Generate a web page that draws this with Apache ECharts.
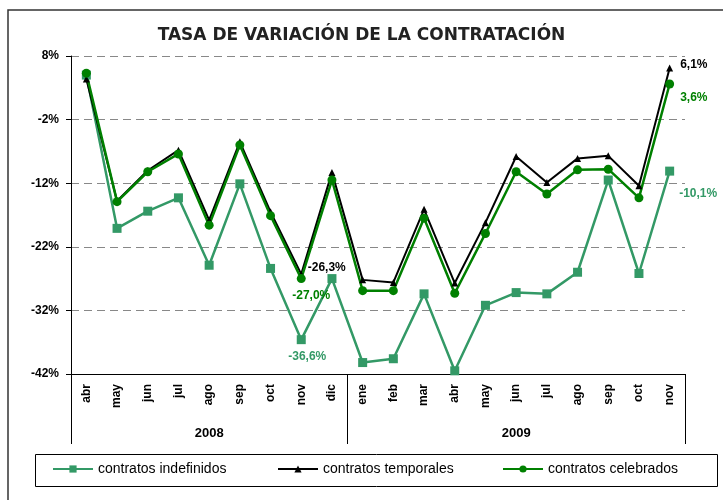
<!DOCTYPE html>
<html>
<head>
<meta charset="utf-8">
<script src="https://cdn.jsdelivr.net/npm/echarts@6/dist/echarts.min.js"></script>
<style>
  html, body { margin: 0; padding: 0; background: #fff; }
  #chart { width: 723px; height: 500px; }
</style>
</head>
<body>
<div id="chart"></div>
<script>
var meses = ['abr','may','jun','jul','ago','sep','oct','nov','dic','ene','feb','mar','abr','may','jun','jul','ago','sep','oct','nov'];
var anios = ['2008', '2009'];
var yTicks = [-42, -32, -22, -12, -2, 8];
var nombres = ['contratos indefinidos', 'contratos temporales', 'contratos celebrados'];

var indefinidos = [5.0,-19.1,-16.4,-14.3,-24.9,-12.1,-25.4,-36.6,-27.0,-40.2,-39.6,-29.4,-41.5,-31.2,-29.2,-29.4,-26.0,-11.5,-26.2,-10.1];
var temporales  = [4.4,-14.8,-10.0,-6.8,-17.8,-5.5,-16.5,-26.3,-10.3,-27.2,-27.6,-16.1,-27.7,-18.2,-7.8,-11.9,-8.1,-7.7,-12.4,6.1];
var celebrados  = [5.3,-14.9,-10.2,-7.4,-18.6,-6.0,-17.1,-27.0,-11.5,-28.9,-28.9,-17.5,-29.3,-19.9,-10.2,-13.7,-9.9,-9.8,-14.3,3.6];

var fmt = function (p) {
    return p.value.toFixed(1).replace('.', ',') + '%';
};

// pone etiqueta solo en los puntos indicados
var conEtiquetas = function (valores, etiquetas, color) {
    return valores.map(function (v, i) {
        if (!etiquetas[i]) return v;
        return {
            value: v,
            label: Object.assign({
                show: true, formatter: fmt, color: color,
                fontWeight: 'bold', fontSize: 12, fontFamily: 'Liberation Sans'
            }, etiquetas[i])
        };
    });
};

// una leyenda por serie para colocarlas como en el original
var leyenda = function (nombre, x) {
    return {
        data: [nombre],
        left: x,
        top: 462,
        padding: 0,
        itemWidth: 40,
        itemHeight: 9,
        itemGap: 0,
        textStyle: { fontSize: 14, color: '#000', fontFamily: 'Liberation Sans' }
    };
};

var myChart = echarts.init(document.getElementById('chart'));
var option = {
    animation: false,
    title: {
        text: 'TASA DE VARIACIÓN DE LA CONTRATACIÓN',
        left: 'center',
        top: 22,
        textStyle: { fontFamily: 'DejaVu Sans', fontWeight: 'bold', fontSize: 17, color: '#222' }
    },
    graphic: [{
        type: 'rect',
        shape: { x: 8, y: 10, width: 740, height: 520 },
        style: { fill: 'none', stroke: '#333', lineWidth: 1.5 },
        silent: true
    }, {
        type: 'rect',
        shape: { x: 35.5, y: 454.5, width: 682, height: 32 },
        style: { fill: 'none', stroke: '#000', lineWidth: 1 },
        silent: true
    }],
    legend: [leyenda(nombres[0], 52), leyenda(nombres[1], 277), leyenda(nombres[2], 502)],
    grid: { left: 71, right: 38, top: 56, bottom: 126, outerBoundsMode: 'none' },
    xAxis: [{
        type: 'category',
        data: meses,
        boundaryGap: true,
        axisLine: { onZero: false, lineStyle: { color: '#000', width: 1 } },
        axisTick: { length: 39, interval: 0, lineStyle: { color: '#000' } },
        axisLabel: {
            rotate: 90, interval: 0, margin: 10, color: '#000',
            fontWeight: 'bold', fontSize: 12, fontFamily: 'Liberation Sans'
        }
    }, {
        type: 'value',
        min: 0,
        max: 20,
        position: 'bottom',
        axisLine: { show: false, onZero: false },
        splitLine: { show: false },
        axisTick: { show: true, customValues: [0, 9, 20], length: 70, lineStyle: { color: '#000' } },
        axisLabel: {
            customValues: [4.5, 14.5],
            formatter: function (v) { return v < 9 ? anios[0] : anios[1]; },
            margin: 53, color: '#000', fontWeight: 'bold', fontSize: 13, fontFamily: 'Liberation Sans'
        }
    }],
    yAxis: {
        type: 'value',
        min: -42,
        max: 8,
        axisLine: { show: true, lineStyle: { color: '#000' } },
        axisTick: { show: true, length: 5, customValues: yTicks, lineStyle: { color: '#000' } },
        axisLabel: {
            customValues: yTicks,
            formatter: function (v) { return v + '%'; },
            margin: 12, color: '#000', fontWeight: 'bold', fontSize: 12, fontFamily: 'Liberation Sans'
        },
        splitLine: { show: true, lineStyle: { color: '#888', type: [8, 5] } }
    },
    series: [{
        name: nombres[0],
        type: 'line',
        symbol: 'rect',
        symbolSize: 9,
        color: '#339966',
        lineStyle: { width: 2.5 },
        data: conEtiquetas(indefinidos, {
            7: { position: 'bottom', offset: [6, 2] },
            19: { position: 'right', offset: [0, 23] }
        }, '#339966')
    }, {
        name: nombres[1],
        type: 'line',
        symbol: 'triangle',
        symbolSize: 7,
        color: '#000',
        lineStyle: { width: 2 },
        data: conEtiquetas(temporales, {
            7: { position: 'right', offset: [-2, -6] },
            19: { position: 'right', offset: [2, -3] }
        }, '#000')
    }, {
        name: nombres[2],
        type: 'line',
        symbol: 'circle',
        symbolSize: 9,
        color: '#008000',
        lineStyle: { width: 2.5 },
        data: conEtiquetas(celebrados, {
            7: { position: 'bottom', offset: [10, 2] },
            19: { position: 'right', offset: [1, 14] }
        }, '#008000')
    }]
};
myChart.setOption(option);
</script>
</body>
</html>
